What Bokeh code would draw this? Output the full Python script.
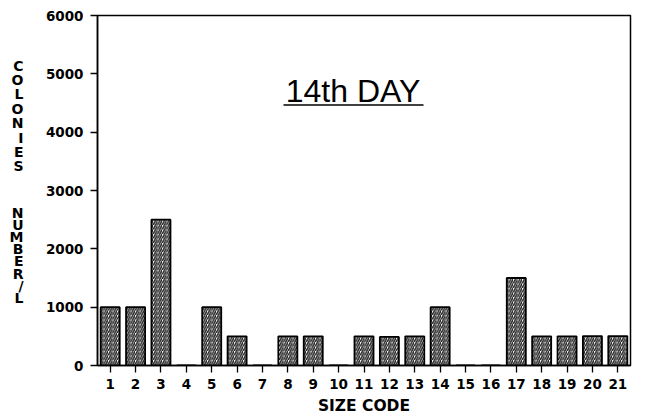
from bokeh.plotting import figure
from bokeh.models import Label, FixedTicker, ColumnDataSource, Range1d, LinearAxis
from bokeh.embed import file_html
from bokeh.resources import INLINE

size_codes = list(range(1, 22))
colonies = [1000, 1000, 2500, 0, 1000, 500, 0, 500, 500, 0,
            500, 490, 500, 1000, 0, 0, 1500, 500, 500, 505, 505]
y_ticks = [0, 1000, 2000, 3000, 4000, 5000, 6000]
title_text = "14th DAY"
x_title = "SIZE CODE"
y_title_1 = "COLONIES"
y_title_2 = "NUMBER/L"

X0, X1, Y0, Y1 = 0.5, 21.5, 0, 6000
# frame in picture pixels
FL, FR, FT, FB = 97, 630, 15, 365
W, H = 640, 420


def px2x(px):
    return X0 + (px - FL) * (X1 - X0) / (FR - FL)


def py2y(py):
    return Y0 + (FB - py) * (Y1 - Y0) / (FB - FT)


p = figure(width=W, height=H, output_backend="svg", toolbar_location=None,
           x_range=Range1d(X0, X1), y_range=Range1d(Y0, Y1),
           min_border_left=FL, min_border_right=W - FR,
           min_border_top=FT, min_border_bottom=H - FB)
p.background_fill_color = "white"
p.border_fill_color = "white"
p.outline_line_color = "black"
p.outline_line_width = 1.5
p.xgrid.visible = False
p.ygrid.visible = False

src = ColumnDataSource(dict(x=size_codes, top=colonies))
p.vbar(x="x", top="top", width=0.75, source=src, fill_color="white",
       line_color="black", line_width=1.8, hatch_pattern="right_diagonal_line",
       hatch_color="#222222", hatch_scale=4.5, hatch_weight=1.5)

FONT = "DejaVu Sans"
for ax in (p.xaxis[0], p.yaxis[0]):
    ax.axis_line_width = 1.5
    ax.major_tick_line_width = 1.3
    ax.major_tick_out = 7
    ax.major_tick_in = 0
    ax.minor_tick_line_color = None
    ax.major_label_text_font = FONT
    ax.major_label_text_font_style = "bold"
    ax.major_label_text_font_size = "13.5px"
    ax.major_label_text_color = "black"
    ax.major_label_standoff = 7

p.xaxis.ticker = FixedTicker(ticks=size_codes)
p.yaxis.ticker = FixedTicker(ticks=y_ticks)
p.xaxis.major_label_standoff = 6
p.xaxis.axis_label = x_title
p.xaxis.axis_label_text_font = FONT
p.xaxis.axis_label_text_font_style = "bold"
p.xaxis.axis_label_text_font_size = "15.5px"
p.xaxis.axis_label_text_color = "black"
p.xaxis.axis_label_standoff = 5

# stacked y title letters as an extra label-only axis
ys1 = [65 + i * 14.4 for i in range(len(y_title_1))]
ys2 = [212 + i * 12.2 for i in range(len(y_title_2))]
pos = [py2y(v) for v in ys1 + ys2]
letters = list(y_title_1) + list(y_title_2)
lab_axis = LinearAxis(ticker=FixedTicker(ticks=pos),
                      major_label_overrides={v: ch for v, ch in zip(pos, letters)})
lab_axis.axis_line_color = None
lab_axis.major_tick_line_color = None
lab_axis.minor_tick_line_color = None
lab_axis.major_tick_out = 0
lab_axis.major_tick_in = 0
lab_axis.major_label_standoff = 19
lab_axis.major_label_text_font = FONT
lab_axis.major_label_text_font_style = "bold"
lab_axis.major_label_text_font_size = "14px"
lab_axis.major_label_text_color = "black"
lab_axis.major_label_text_align = "center"
p.add_layout(lab_axis, "left")

# title with underline
p.add_layout(Label(x=px2x(352.5), y=py2y(90), text=title_text, text_align="center",
                   text_baseline="middle", text_font="Liberation Sans",
                   text_font_size="32px", text_color="black"))
p.segment(x0=[px2x(283)], y0=[py2y(104.5)], x1=[px2x(423)], y1=[py2y(104.5)],
          line_color="black", line_width=1.6)

open("out.html", "w").write(file_html(p, INLINE))
